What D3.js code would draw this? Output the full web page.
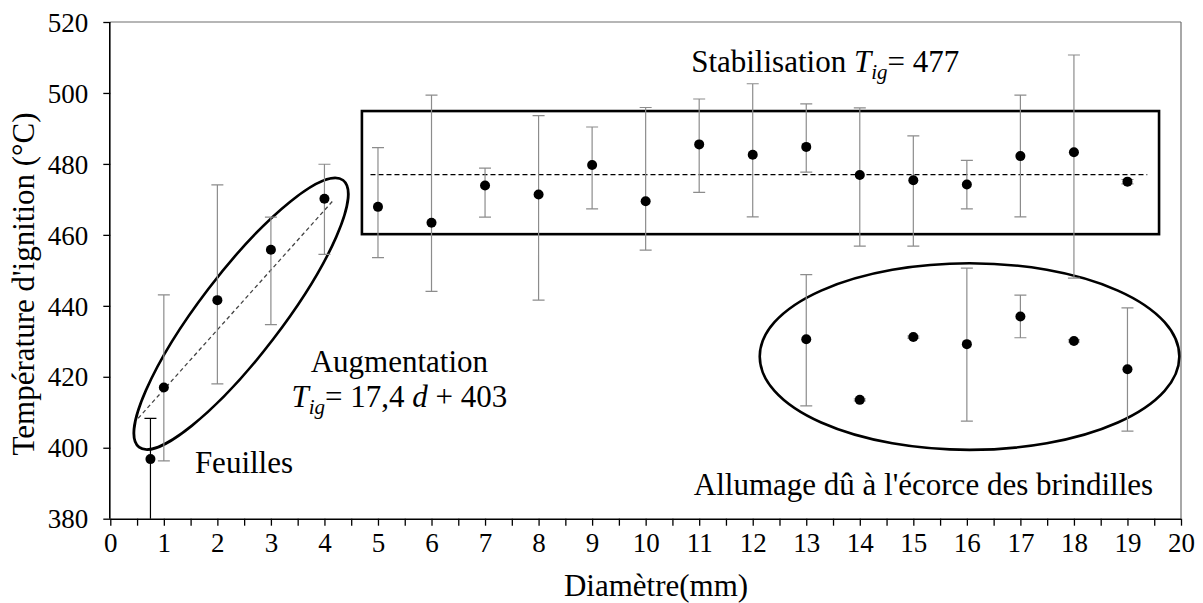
<!DOCTYPE html>
<html><head><meta charset="utf-8">
<script src="https://cdn.jsdelivr.net/npm/d3@7"></script>
<style>
html,body{margin:0;padding:0;background:#fff;}
svg{display:block;}
text{font-family:"Liberation Serif","Times New Roman",serif;fill:#000;}
</style></head>
<body>
<svg id="chart" width="1203" height="603"></svg>
<script>
// ---- data ----
const xTicks = d3.range(0, 21, 1);
const yTicks = [380, 400, 420, 440, 460, 480, 500, 520];

// leaves
const diamLeaf = [0.75];
const tLeaf = [396.8];
const hiLeaf = [408.3];
const loLeaf = [372];

// increase
const diamInc = [1, 2, 3, 4];
const tInc = [417.0, 441.6, 455.8, 470.2];
const hiInc = [443.1, 474.1, 465.0, 479.9];
const loInc = [396.3, 418.0, 434.7, 454.5];

// stabilisation
const diamStab = [5, 6, 7, 8, 9, 10, 11, 12, 13, 14, 15, 16, 17, 18, 19];
const tStab = [467.9, 463.4, 473.9, 471.4, 479.7, 469.5, 485.5, 482.6, 484.8, 476.9, 475.4, 474.2, 482.2, 483.3, 475.0];
const hiStab = [484.6, 499.4, 478.8, 493.6, 490.4, 495.9, 498.3, 502.6, 496.9, 495.8, 487.9, 481.0, 499.4, 510.7, 475.6];
const loStab = [453.6, 444.1, 465.0, 441.6, 467.3, 455.7, 472.0, 465.1, 477.7, 456.8, 456.8, 467.3, 465.1, 447.8, 474.4];

// bark
const diamBark = [13, 14, 15, 16, 17, 18, 19];
const tBark = [430.6, 413.5, 431.2, 429.2, 437.0, 430.1, 422.1];
const hiBark = [448.8, 413.8, 431.5, 450.6, 443.0, 430.4, 439.4];
const loBark = [411.8, 413.2, 430.9, 407.5, 431.0, 429.8, 404.7];

// fits
const fitIncX = [0.52, 4.17];
const fitIncY = [408.3, 469.8];
const meanStab = 477;
const meanStabX = [4.86, 19.37];

// ---- layout ----
const svg = d3.select("#chart");
const pL = 110.3, pR = 1181, pT = 22, pB = 518.7;
const x = d3.scaleLinear().domain([0, 20]).range([pL, pR]);
const y = d3.scaleLinear().domain([380, 520]).range([pB, pT]);

svg.append("defs").append("clipPath").attr("id", "clip")
  .append("rect").attr("x", pL).attr("y", pT).attr("width", pR - pL).attr("height", pB - pT);

// plot border top/right
svg.append("line").attr("x1", pL).attr("x2", pR).attr("y1", pT).attr("y2", pT)
  .attr("stroke", "#6e6e6e").attr("stroke-width", 1.2);
svg.append("line").attr("x1", pR).attr("x2", pR).attr("y1", pT).attr("y2", pB)
  .attr("stroke", "#6e6e6e").attr("stroke-width", 1.2);

// axes
const xAxis = d3.axisBottom(x).tickValues(d3.range(0, 20.01, 0.5)).tickSize(7)
  .tickFormat(d => Number.isInteger(d) ? d : "");
const gx = svg.append("g").attr("transform", `translate(0,${pB})`).call(xAxis);
gx.select(".domain").attr("d", `M${pL},0.5H${pR}`).attr("stroke", "#000").attr("stroke-width", 1.6);
gx.selectAll(".tick line").attr("stroke", "#000").attr("stroke-width", 1.3);
gx.selectAll(".tick text").attr("font-size", 27).attr("font-family", '"Liberation Serif",serif')
  .attr("y", 14).attr("dy", "0.71em");

const yAxis = d3.axisLeft(y).tickValues(yTicks).tickSize(7);
const gy = svg.append("g").attr("transform", `translate(${pL},0)`).call(yAxis);
gy.select(".domain").attr("d", `M-0.5,${pT}V${pB}`).attr("stroke", "#000").attr("stroke-width", 1.6);
gy.selectAll(".tick line").attr("stroke", "#000").attr("stroke-width", 1.3);
gy.selectAll(".tick text").attr("font-size", 27).attr("font-family", '"Liberation Serif",serif')
  .attr("x", -22).attr("dy", "0.34em");

// axis titles
svg.append("text").attr("x", 656).attr("y", 596).attr("text-anchor", "middle")
  .attr("font-size", 31).text("Diamètre(mm)");
svg.append("text").attr("transform", "translate(34,284) rotate(-90)").attr("text-anchor", "middle")
  .attr("font-size", 31).text("Température d'ignition (°C)");

const plot = svg.append("g").attr("clip-path", "url(#clip)");

// annotations: fits
plot.append("line").attr("x1", x(fitIncX[0])).attr("x2", x(fitIncX[1]))
  .attr("y1", y(fitIncY[0])).attr("y2", y(fitIncY[1]))
  .attr("stroke", "#444").attr("stroke-width", 1.3).attr("stroke-dasharray", "4,3");
plot.append("line").attr("x1", x(meanStabX[0])).attr("x2", x(meanStabX[1]))
  .attr("y1", y(meanStab)).attr("y2", y(meanStab))
  .attr("stroke", "#000").attr("stroke-width", 1.3).attr("stroke-dasharray", "5,3");

// rectangle around stabilisation
plot.append("rect").attr("x", x(4.70)).attr("y", y(494.9))
  .attr("width", x(19.59) - x(4.70)).attr("height", y(460.2) - y(494.9))
  .attr("fill", "none").attr("stroke", "#000").attr("stroke-width", 2.6);

// ellipses
plot.append("ellipse").attr("cx", 0).attr("cy", 0).attr("rx", 168).attr("ry", 41)
  .attr("transform", `translate(${x(2.443)},${y(437.8)}) rotate(-52.6)`)
  .attr("fill", "none").attr("stroke", "#000").attr("stroke-width", 2.6);
plot.append("ellipse").attr("cx", x(16.05)).attr("cy", y(425.7)).attr("rx", 209.8).attr("ry", 93.3)
  .attr("fill", "none").attr("stroke", "#000").attr("stroke-width", 2.6);

// series
function drawSeries(xs, ts, his, los, errColor) {
  const data = xs.map((d, i) => ({d, t: ts[i], hi: his[i], lo: los[i]}));
  const g = plot.append("g");
  const cap = 6;
  g.selectAll(".eb").data(data).enter().append("path")
    .attr("d", p => `M${x(p.d)},${y(p.lo)}V${y(p.hi)}M${x(p.d)-cap},${y(p.hi)}H${x(p.d)+cap}M${x(p.d)-cap},${y(p.lo)}H${x(p.d)+cap}`)
    .attr("fill", "none").attr("stroke", errColor).attr("stroke-width", 1.2);
  g.selectAll(".pt").data(data).enter().append("circle")
    .attr("cx", p => x(p.d)).attr("cy", p => y(p.t)).attr("r", 5).attr("fill", "#000");
}
drawSeries(diamLeaf, tLeaf, hiLeaf, loLeaf, "#000");
drawSeries(diamInc, tInc, hiInc, loInc, "#8c8c8c");
drawSeries(diamStab, tStab, hiStab, loStab, "#8c8c8c");
drawSeries(diamBark, tBark, hiBark, loBark, "#8c8c8c");

// text annotations
const fs = 31;
const st = svg.append("text").attr("x", x(10.85)).attr("y", y(505.8)).attr("font-size", fs);
st.append("tspan").text("Stabilisation ");
st.append("tspan").attr("font-style", "italic").text("T");
st.append("tspan").attr("font-style", "italic").attr("font-size", 21).attr("dy", 7).text("ig");
st.append("tspan").attr("dy", -7).text("= 477");

svg.append("text").attr("x", x(5.40)).attr("y", y(421.4)).attr("font-size", fs)
  .attr("text-anchor", "middle").text("Augmentation");
const eq = svg.append("text").attr("x", x(5.40)).attr("y", y(421.4) + 35).attr("font-size", fs)
  .attr("text-anchor", "middle");
eq.append("tspan").attr("font-style", "italic").text("T");
eq.append("tspan").attr("font-style", "italic").attr("font-size", 21).attr("dy", 7).text("ig");
eq.append("tspan").attr("dy", -7).text("= 17,4 ");
eq.append("tspan").attr("font-style", "italic").text("d");
eq.append("tspan").text(" + 403");

svg.append("text").attr("x", x(1.58)).attr("y", y(392.8)).attr("font-size", fs).text("Feuilles");
svg.append("text").attr("x", x(10.90)).attr("y", y(386.7)).attr("font-size", fs)
  .text("Allumage dû à l'écorce des brindilles");
</script>
</body></html>
